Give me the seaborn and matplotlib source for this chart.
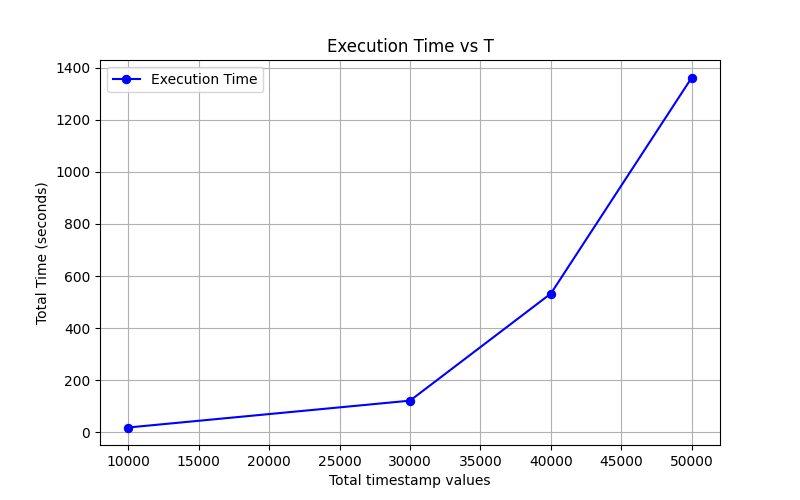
import pandas as pd
import matplotlib
matplotlib.use("Agg")
import matplotlib.pyplot as plt
import seaborn as sns

# data
timestamps = [10000, 30000, 40000, 50000]
total_time = [19, 122, 533, 1362]

df = pd.DataFrame({"T": timestamps, "Time": total_time})

fig, ax = plt.subplots(figsize=(8, 5), dpi=100)
sns.lineplot(data=df, x="T", y="Time", marker="o", color="blue",
             markeredgecolor="blue", markersize=6, label="Execution Time", ax=ax)

ax.set_title("Execution Time vs T")
ax.set_xlabel("Total timestamp values")
ax.set_ylabel("Total Time (seconds)")
ax.grid(True)
ax.legend(loc="upper left")

plt.savefig("out.png")
